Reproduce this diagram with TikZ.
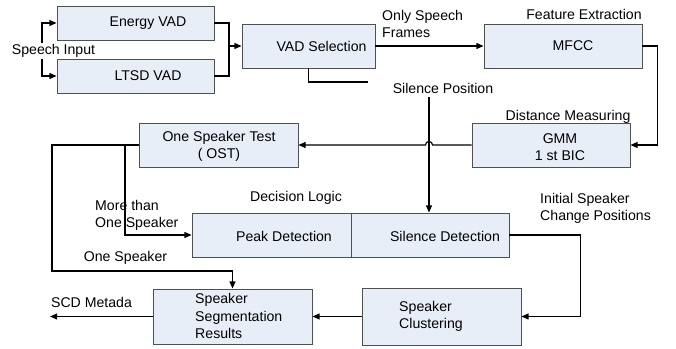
\documentclass[tikz,border=0pt]{standalone}
\usepackage{fontspec}
\setmainfont{Liberation Sans}
\usetikzlibrary{fit,arrows.meta}
\definecolor{boxfill}{RGB}{232,238,247}
\definecolor{boxline}{RGB}{80,80,80}
\begin{document}
\begin{tikzpicture}[x=0.85pt,y=-0.85pt,
  box/.style={draw=boxline,line width=0.8pt,fill=boxfill,inner sep=0pt},
  txt/.style={inner sep=0pt,font=\fontsize{12}{14.5}\selectfont,align=center},
  ltxt/.style={txt,align=left,anchor=west},
  conn/.style={line width=1pt},
  arr/.style={conn,-{Triangle[length=6pt,width=5pt]}}]
\useasboundingbox (0,0) rectangle (676,349);
% boxes
\node[box,fit={(57,6)(214,40)}] (energy) {};
\node[box,fit={(57,59)(214,93)}] (ltsd) {};
\node[box,fit={(242,24)(375,68)}] (vadsel) {};
\node[box,fit={(484,24)(642,68)}] (mfcc) {};
\node[box,fit={(472,123)(630,167)}] (gmm) {};
\node[box,fit={(139,123)(298,167)}] (ost) {};
\node[box,fit={(192,213)(351,257)}] (peak) {};
\node[box,fit={(351,213)(509,257)}] (sild) {};
\node[box,fit={(153,289)(312,344)}] (seg) {};
\node[box,fit={(362,288)(521,345)}] (clus) {};
% box texts
\node[txt] (energyT) at (148,23) {Energy VAD};
\node[txt] (ltsdT) at (148,76) {LTSD VAD};
\node[txt] (vadT) at (321.5,46) {VAD Selection};
\node[txt] (mfccT) at (573,46) {MFCC};
\node[txt] (gmmT) at (560,147) {GMM\\1 st BIC};
\node[txt] (ostT) at (219,146.5) {One Speaker Test\\( OST)};
\node[txt] (peakT) at (284,236) {Peak Detection};
\node[txt] (sildT) at (445,236) {Silence Detection};
\node[ltxt] (segT) at (195,316) {Speaker\\Segmentation\\Results};
\node[ltxt] (clusT) at (399,316) {Speaker\\Clustering};
% coordinates
\coordinate (si) at (42,50);
\coordinate (join) at (229,46);
\coordinate (vadend) at (368,82);
\coordinate (sp) at (429,97);
\coordinate (c1) at (52,271);
\coordinate (br) at (125,145);
\coordinate (scd) at (50,316.5);
% connectors
\draw[arr] (si) |- (energy.west);
\draw[arr] (si) |- (ltsd.west);
\draw[conn] (energy.east) -| (join);
\draw[conn] (ltsd.east) -| (join);
\draw[arr] (join) -- (vadsel.west);
\draw[conn] (vadsel.south) |- (vadend);
\draw[arr] (vadsel.east) -- (mfcc.west);
\draw[arr] (mfcc.east) -- ++(15,0) |- (gmm.east);
\draw[arr] (gmm.west) -- ([xshift=3pt]sp |- gmm.west) arc[start angle=0,end angle=180,radius=3pt] -- (ost.east);
\draw[arr] (sp) -- (sp |- sild.north);
\draw[arr] (ost.west) -| (c1) -| (seg.north);
\draw[arr] (br) |- (peak.west);
\draw[arr] (sild.east) -- ++(71,0) |- (clus.east);
\draw[arr] (clus.west) -- (seg.east);
\draw[arr] (seg.west) -- (scd);
% labels
\node[txt,fill=white,inner sep=1pt] (speechin) at (53.5,51) {Speech Input};
\node[ltxt] (onlysp) at (382,24) {Only Speech\\Frames};
\node[txt] (featx) at (584,14) {Feature Extraction};
\node[txt] (silpos) at (443,88) {Silence Position};
\node[txt] (distm) at (568,117) {Distance Measuring};
\node[txt] (declog) at (296,198) {Decision Logic};
\node[ltxt] (initsp) at (540,208.5) {Initial Speaker\\Change Positions};
\node[ltxt] (morethan) at (95,215) {More than\\One Speaker};
\node[txt] (onesp) at (125.5,258) {One Speaker};
\node[txt] (scdm) at (91.5,302) {SCD Metada};
\end{tikzpicture}
\end{document}
